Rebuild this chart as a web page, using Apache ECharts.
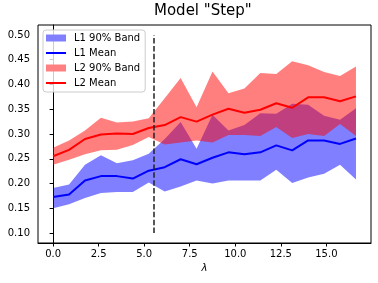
<!DOCTYPE html>
<html>
<head>
<meta charset="utf-8">
<script src="https://cdn.jsdelivr.net/npm/echarts@6/dist/echarts.min.js"></script>
<style>html,body{margin:0;padding:0;background:#fff}#c{width:378px;height:283px}</style>
</head>
<body>
<div id="c"></div>
<script>
const lambdas = [0, 0.875, 1.75, 2.625, 3.5, 4.375, 5.25, 6.125, 7.0, 7.875, 8.75, 9.625, 10.5, 11.375, 12.25, 13.125, 14.0, 14.875, 15.75, 16.625];
const l1Low  = [0.150,0.158,0.171,0.181,0.183,0.183,0.202,0.184,0.194,0.206,0.200,0.206,0.206,0.206,0.228,0.201,0.212,0.220,0.238,0.208];
const l1High = [0.191,0.198,0.238,0.257,0.241,0.247,0.260,0.290,0.324,0.270,0.339,0.307,0.318,0.342,0.341,0.361,0.359,0.337,0.329,0.352];
const l1Mean = [0.173,0.178,0.206,0.215,0.215,0.210,0.226,0.233,0.249,0.239,0.252,0.263,0.259,0.263,0.277,0.267,0.287,0.287,0.280,0.291];
const l2Low  = [0.238,0.248,0.259,0.267,0.268,0.278,0.294,0.279,0.283,0.287,0.283,0.298,0.298,0.296,0.314,0.292,0.300,0.296,0.320,0.296];
const l2High = [0.272,0.287,0.307,0.333,0.323,0.325,0.332,0.372,0.413,0.354,0.426,0.382,0.392,0.423,0.421,0.447,0.439,0.425,0.417,0.436];
const l2Mean = [0.255,0.268,0.290,0.299,0.301,0.300,0.312,0.318,0.334,0.325,0.339,0.351,0.343,0.349,0.362,0.353,0.374,0.374,0.366,0.376];
const xTicks = [0, 2.5, 5.0, 7.5, 10.0, 12.5, 15.0];
const yTicks = [0.10, 0.15, 0.20, 0.25, 0.30, 0.35, 0.40, 0.45, 0.50];
const stepX = 5.5;
const stepY = [0.10, 0.50];
const titleText = 'Model "Step"';
const xName = 'λ';

const FONT = 'DejaVu Sans';
const pair = (ys) => lambdas.map((x, i) => [x, ys[i]]);
const lineIcon = 'path://M0,0 L20,0 L20,2 L0,2 Z';

function band(lo, hi, name, solid, rgba) {
  return {
    type: 'custom', name: name, silent: true, z: 2,
    itemStyle: { color: solid },
    data: lambdas.map((x, i) => [x, lo[i], hi[i]]),
    encode: { x: 0, y: [1, 2] },
    renderItem: function (params, api) {
      if (params.dataIndex !== 0) return null;
      const top = lambdas.map((x, i) => api.coord([x, hi[i]]));
      const bot = lambdas.map((x, i) => api.coord([x, lo[i]])).reverse();
      return {
        type: 'polygon',
        shape: { points: top.concat(bot) },
        style: { fill: rgba, stroke: null }
      };
    }
  };
}

const chart = echarts.init(document.getElementById('c'), null, { renderer: 'canvas' });
chart.setOption({
  animation: false,
  backgroundColor: '#fff',
  title: {
    text: titleText, left: 154, top: 0, padding: [4, 0, 0, 0],
    textStyle: { fontFamily: FONT, fontSize: 15, fontWeight: 'normal', color: '#000' }
  },
  legend: {
    orient: 'vertical', left: 43, top: 30,
    itemWidth: 20, itemHeight: 7, itemGap: 3,
    padding: [2, 5, 3, 3],
    borderColor: '#cccccc', borderWidth: 1, borderRadius: 3,
    backgroundColor: 'rgba(255,255,255,0.8)',
    textStyle: { fontFamily: FONT, fontSize: 10, color: '#000', lineHeight: 12, padding: [0, 0, 0, 3] },
    data: [
      { name: 'L1 90% Band', icon: 'rect' },
      { name: 'L1 Mean', icon: lineIcon },
      { name: 'L2 90% Band', icon: 'rect' },
      { name: 'L2 Mean', icon: lineIcon }
    ]
  },
  grid: { left: 38, right: 7, top: 25, bottom: 40, show: true, borderColor: '#000', borderWidth: 1, containLabel: false },
  xAxis: {
    type: 'value', min: -0.83, max: 17.45,
    axisLine: { show: true, lineStyle: { color: '#000', width: 1 } },
    axisTick: { show: true, inside: false, length: 3.5, customValues: xTicks, lineStyle: { color: '#000' } },
    axisLabel: { customValues: xTicks, formatter: v => v.toFixed(1), fontFamily: FONT, fontSize: 10, color: '#000', margin: 6 },
    splitLine: { show: false },
    name: xName, nameLocation: 'middle', nameGap: 19,
    nameTextStyle: { fontFamily: FONT, fontSize: 10, fontStyle: 'italic', color: '#000' }
  },
  yAxis: {
    type: 'value', min: 0.08, max: 0.52,
    axisLine: { show: true, lineStyle: { color: '#000', width: 1 } },
    axisTick: { show: true, inside: false, length: 3.5, customValues: yTicks, lineStyle: { color: '#000' } },
    axisLabel: { customValues: yTicks, formatter: v => v.toFixed(2), fontFamily: FONT, fontSize: 10, color: '#000', margin: 8 },
    splitLine: { show: false }
  },
  series: [
    band(l1Low, l1High, 'L1 90% Band', '#8080ff', 'rgba(0,0,255,0.5)'),
    { type: 'line', name: 'L1 Mean', data: pair(l1Mean), symbol: 'none', silent: true,
      lineStyle: { color: '#0000ff', width: 2 }, itemStyle: { color: '#0000ff' }, z: 3 },
    band(l2Low, l2High, 'L2 90% Band', '#ff8080', 'rgba(255,0,0,0.5)'),
    { type: 'line', name: 'L2 Mean', data: pair(l2Mean), symbol: 'none', silent: true,
      lineStyle: { color: '#ff0000', width: 2 }, itemStyle: { color: '#ff0000' }, z: 4,
      markLine: {
        silent: true, symbol: 'none', label: { show: false },
        lineStyle: { color: '#222', width: 1.5, type: [5.5, 2.4] },
        data: [[{ coord: [stepX, stepY[0]] }, { coord: [stepX, stepY[1]] }]]
      }
    }
  ]
});
</script>
</body>
</html>
